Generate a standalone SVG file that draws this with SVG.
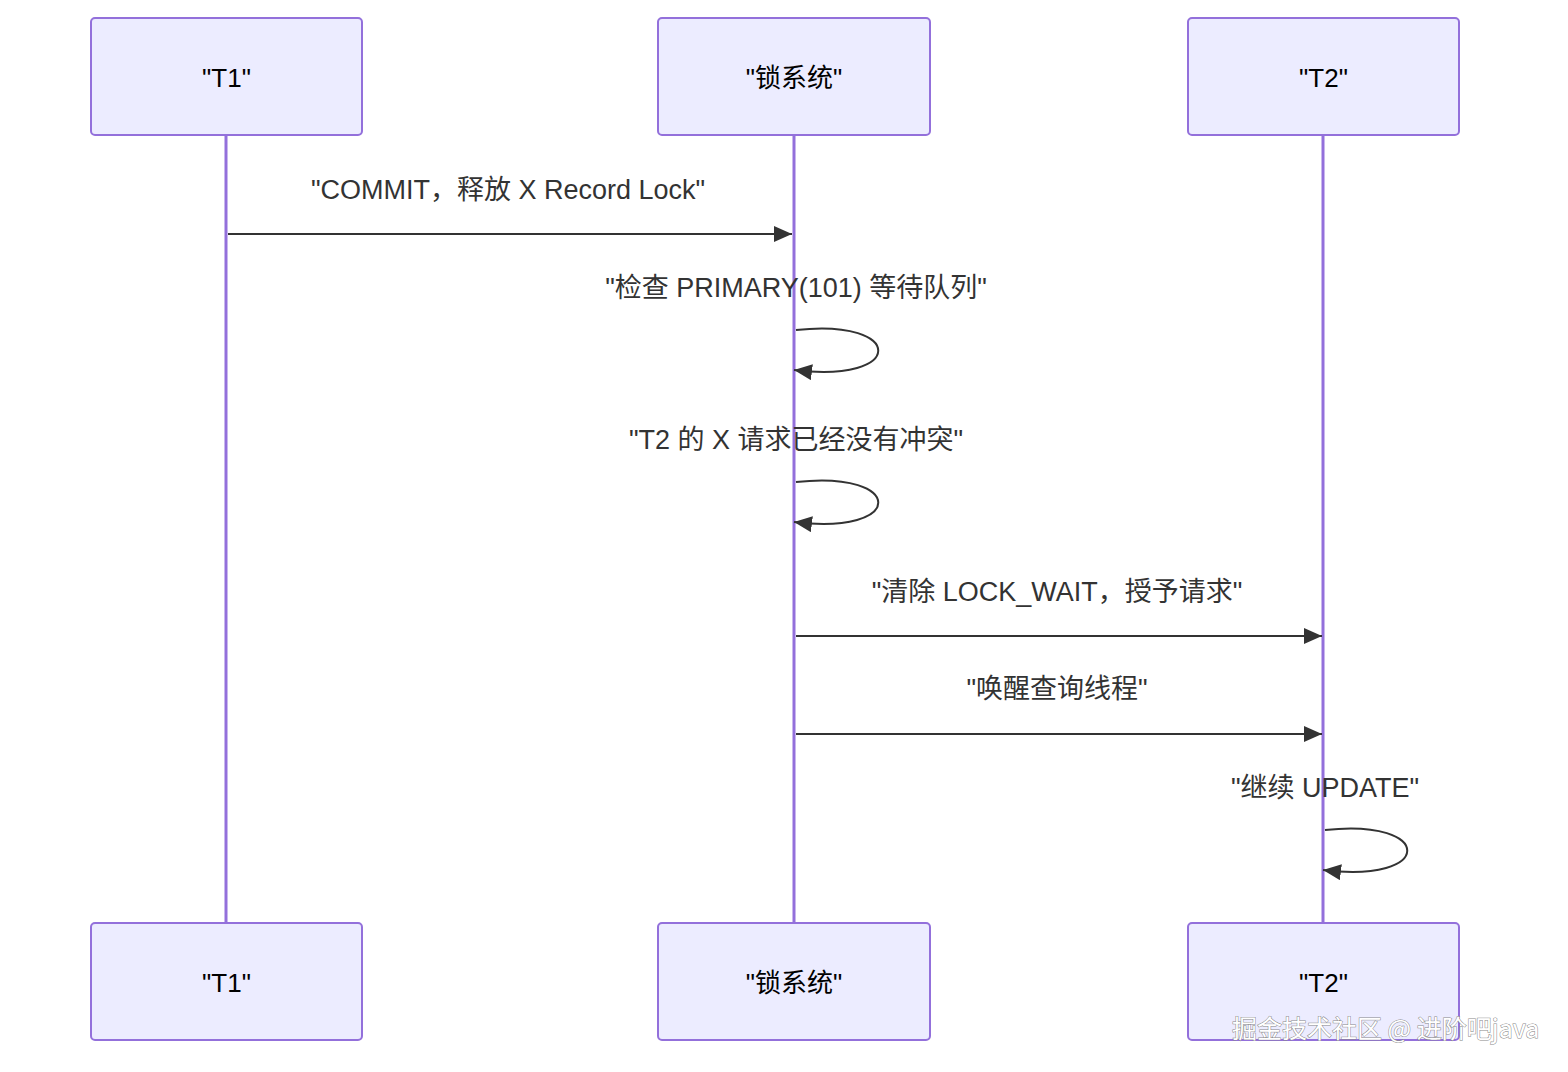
<svg xmlns="http://www.w3.org/2000/svg" width="1568" height="1072" viewBox="0 0 1568 1072">
<defs>
<marker id="arrs" viewBox="0 0 18 16" refX="18" refY="8" markerWidth="18" markerHeight="16" markerUnits="userSpaceOnUse" orient="auto">
<path d="M0,0 L18,8 L0,16 z" fill="#333"/>
</marker>
</defs>
<style>
.box{fill:#ECECFF;stroke:#9370DB;stroke-width:2}
.life{stroke:#9370DB;stroke-width:3}
.at{font-family:"Liberation Sans","Noto Sans CJK SC",sans-serif;font-size:26px;fill:#000;text-anchor:middle;dominant-baseline:central}
.ml{font-family:"Liberation Sans","Noto Sans CJK SC",sans-serif;font-size:27px;fill:#333;text-anchor:middle}
.msg{stroke:#333;stroke-width:2;fill:none}
.wm{font-family:"Noto Sans CJK SC","Liberation Sans",sans-serif;font-size:25px;fill:#fff;stroke:#888;stroke-width:1;paint-order:stroke}
</style>
<rect width="1568" height="1072" fill="#fff"/>
<g id="lifelines">
<line class="life" x1="226" y1="136" x2="226" y2="923"/>
<line class="life" x1="794" y1="136" x2="794" y2="923"/>
<line class="life" x1="1323" y1="136" x2="1323" y2="923"/>
</g>
<g id="T1-top"><rect class="box" x="91" y="18" width="271" height="117" rx="4"/><text class="at" x="226.5" y="78">"T1"</text></g>
<g id="lock-top"><rect class="box" x="658" y="18" width="272" height="117" rx="4"/><text class="at" x="794" y="78">"锁系统"</text></g>
<g id="T2-top"><rect class="box" x="1188" y="18" width="271" height="117" rx="4"/><text class="at" x="1323.5" y="78">"T2"</text></g>
<g id="T1-bottom"><rect class="box" x="91" y="923" width="271" height="117" rx="4"/><text class="at" x="226.5" y="983">"T1"</text></g>
<g id="lock-bottom"><rect class="box" x="658" y="923" width="272" height="117" rx="4"/><text class="at" x="794" y="983">"锁系统"</text></g>
<g id="T2-bottom"><rect class="box" x="1188" y="923" width="271" height="117" rx="4"/><text class="at" x="1323.5" y="983">"T2"</text></g>
<g id="connectors">
<line class="msg" x1="228" y1="234" x2="792" y2="234" marker-end="url(#arrs)"/>
<path class="msg" d="M796,330 C906,318 906,384 794,370" marker-end="url(#arrs)"/>
<path class="msg" d="M796,482 C906,470 906,536 794,522" marker-end="url(#arrs)"/>
<line class="msg" x1="796" y1="636" x2="1322" y2="636" marker-end="url(#arrs)"/>
<line class="msg" x1="796" y1="734" x2="1322" y2="734" marker-end="url(#arrs)"/>
<path class="msg" d="M1325,830 C1435,818 1435,884 1323,870" marker-end="url(#arrs)"/>
</g>
<g id="labels">
<text class="ml" x="508" y="199">"COMMIT，释放 X Record Lock"</text>
<text class="ml" x="796" y="297">"检查 PRIMARY(101) 等待队列"</text>
<text class="ml" x="796" y="449">"T2 的 X 请求已经没有冲突"</text>
<text class="ml" x="1057" y="601">"清除 LOCK_WAIT，授予请求"</text>
<text class="ml" x="1057" y="698">"唤醒查询线程"</text>
<text class="ml" x="1325" y="797">"继续 UPDATE"</text>
</g>
<text class="wm" x="1232" y="1038">掘金技术社区 @ 进阶吧java</text>
</svg>
